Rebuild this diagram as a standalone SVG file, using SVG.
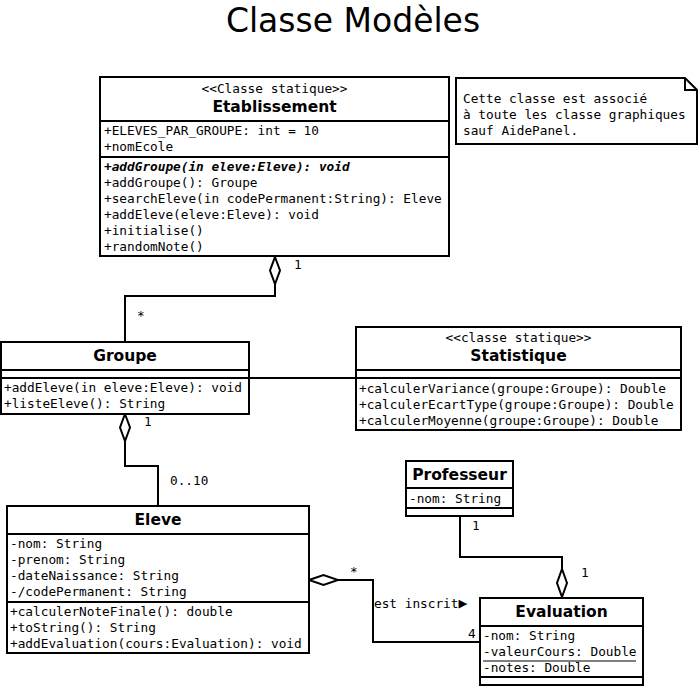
<svg xmlns="http://www.w3.org/2000/svg" width="698" height="687" viewBox="0 0 698 687">
<style>
.box{fill:#fff;stroke:#000;stroke-width:2}
.sep{stroke:#000;stroke-width:2}
.m{font-family:"DejaVu Sans Mono","Liberation Mono",monospace;font-size:12.75px;fill:#000}
.n{font-family:"DejaVu Sans","Liberation Sans",sans-serif;font-size:15.5px;font-weight:bold;fill:#000;text-anchor:middle}
.c{text-anchor:middle}
.w{fill:none;stroke:#000;stroke-width:2}
.d{fill:#fff;stroke:#000;stroke-width:2}
</style>
<rect width="698" height="687" fill="#fff"/>
<text x="353" y="32" font-family="DejaVu Sans,Liberation Sans,sans-serif" font-size="33" text-anchor="middle">Classe Modèles</text>

<g id="connectors">
<polyline class="w" points="275,284 275,296 125,296 125,342"/>
<polygon class="d" points="275,257 280,270.5 275,284 270,270.5"/>
<text class="m" x="294" y="269">1</text>
<text class="m" x="137" y="320">*</text>
<line class="sep" x1="249" y1="378" x2="356" y2="378"/>
<polyline class="w" points="125,441 125,466 158,466 158,506"/>
<polygon class="d" points="125,414 130,427.5 125,441 120,427.5"/>
<text class="m" x="144" y="426">1</text>
<text class="m" x="170" y="485">0..10</text>
<polyline class="w" points="460,517 460,557 562,557 562,569"/>
<polygon class="d" points="562,569 567,583 562,597 557,583"/>
<text class="m" x="472" y="530">1</text>
<text class="m" x="581" y="577">1</text>
<polyline class="w" points="338,580 373,580 373,642 480,642"/>
<polygon class="d" points="309,580 323.5,575 338,580 323.5,585"/>
<text class="m" x="350" y="576">*</text>
<text class="m" x="468" y="638">4</text>
<text class="m" x="374" y="608">est inscrit<tspan font-size="15">▶</tspan></text>
</g>

<g id="Etablissement">
<rect class="box" x="100" y="77" width="349" height="179"/>
<line class="sep" x1="100" y1="121" x2="449" y2="121"/>
<line class="sep" x1="100" y1="157" x2="449" y2="157"/>
<text class="m c" x="274.5" y="93">&lt;&lt;Classe statique&gt;&gt;</text>
<text class="n" x="274.5" y="112">Etablissement</text>
<text class="m" x="104" y="135">+ELEVES_PAR_GROUPE: int = 10</text>
<text class="m" x="104" y="151">+nomEcole</text>
<text class="m" x="104" y="171" font-weight="bold" font-style="italic">+addGroupe(in eleve:Eleve): void</text>
<text class="m" x="104" y="187">+addGroupe(): Groupe</text>
<text class="m" x="104" y="203">+searchEleve(in codePermanent:String): Eleve</text>
<text class="m" x="104" y="219">+addEleve(eleve:Eleve): void</text>
<text class="m" x="104" y="235">+initialise()</text>
<text class="m" x="104" y="251">+randomNote()</text>
</g>

<g id="note">
<polygon class="box" points="456,78 685,78 697,90 697,144 456,144"/>
<polyline class="w" points="685,78 685,90 697,90"/>
<text class="m" x="463" y="103">Cette classe est associé</text>
<text class="m" x="463" y="119">à toute les classe graphiques</text>
<text class="m" x="463" y="135">sauf AidePanel.</text>
</g>

<g id="Groupe">
<rect class="box" x="1" y="342" width="248" height="72"/>
<line class="sep" x1="1" y1="370" x2="249" y2="370"/>
<line class="sep" x1="1" y1="378" x2="249" y2="378"/>
<text class="n" x="125" y="361">Groupe</text>
<text class="m" x="4" y="392">+addEleve(in eleve:Eleve): void</text>
<text class="m" x="4" y="408">+listeEleve(): String</text>
</g>

<g id="Statistique">
<rect class="box" x="356" y="327" width="325" height="103"/>
<line class="sep" x1="356" y1="370" x2="681" y2="370"/>
<line class="sep" x1="356" y1="378" x2="681" y2="378"/>
<text class="m c" x="518.5" y="342">&lt;&lt;classe statique&gt;&gt;</text>
<text class="n" x="518.5" y="361">Statistique</text>
<text class="m" x="359" y="393">+calculerVariance(groupe:Groupe): Double</text>
<text class="m" x="359" y="409">+calculerEcartType(groupe:Groupe): Double</text>
<text class="m" x="359" y="425">+calculerMoyenne(groupe:Groupe): Double</text>
</g>

<g id="Eleve">
<rect class="box" x="7" y="506" width="302" height="147"/>
<line class="sep" x1="7" y1="534" x2="309" y2="534"/>
<line class="sep" x1="7" y1="602" x2="309" y2="602"/>
<text class="n" x="158" y="525">Eleve</text>
<text class="m" x="10" y="548">-nom: String</text>
<text class="m" x="10" y="564">-prenom: String</text>
<text class="m" x="10" y="580">-dateNaissance: String</text>
<text class="m" x="10" y="596">-/codePermanent: String</text>
<text class="m" x="10" y="616">+calculerNoteFinale(): double</text>
<text class="m" x="10" y="632">+toString(): String</text>
<text class="m" x="10" y="648">+addEvaluation(cours:Evaluation): void</text>
</g>

<g id="Professeur">
<rect class="box" x="406" y="461" width="107" height="55"/>
<line class="sep" x1="406" y1="488" x2="513" y2="488"/>
<line class="sep" x1="406" y1="508" x2="513" y2="508"/>
<text class="n" x="459.5" y="480">Professeur</text>
<text class="m" x="409" y="503">-nom: String</text>
</g>

<g id="Evaluation">
<rect class="box" x="480" y="598" width="163" height="87"/>
<line class="sep" x1="480" y1="626" x2="643" y2="626"/>
<line class="sep" x1="480" y1="677" x2="643" y2="677"/>
<text class="n" x="561.5" y="617">Evaluation</text>
<text class="m" x="483" y="640">-nom: String</text>
<text class="m" x="483" y="656">-valeurCours: Double</text>
<line x1="483" y1="661" x2="636" y2="661" stroke="#000" stroke-width="1"/>
<text class="m" x="483" y="672">-notes: Double</text>
</g>
</svg>
